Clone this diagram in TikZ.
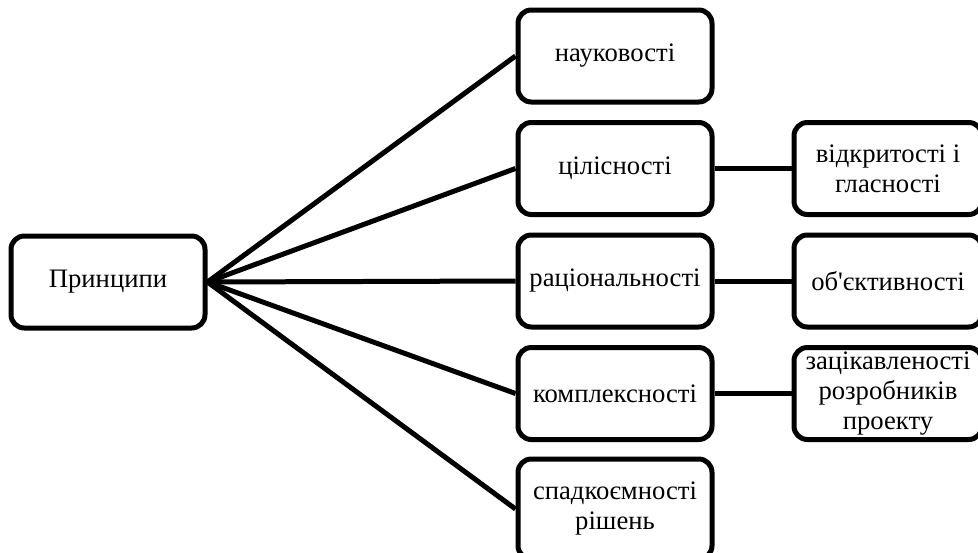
\documentclass[tikz,border=0pt]{standalone}
\usepackage{fontspec}
\setmainfont{Liberation Serif}[Ligatures=TeXOff]
\begin{document}
\begin{tikzpicture}[x=0.75pt,y=-0.75pt,
  box/.style={draw,line width=3.75pt,rounded corners=10pt,minimum width=145.5pt,minimum height=69pt,
    align=center,font=\fontsize{20}{22.5}\selectfont,inner sep=1pt},
  rbox/.style={box,minimum width=141pt},
  link/.style={line width=3.75pt}]
\useasboundingbox (0,0) rectangle (978,553);
\node[box] (p) at (108,282) {Принципи};
\node[box] (m1) at (615,56) {науковості};
\node[box] (m2) at (615,168.5) {цілісності};
\node[box] (m3) at (615,281) {раціональності};
\node[box] (m4) at (615,393.5) {комплексності};
\node[box,minimum height=75pt] (m5) at (615,509) {спадкоємності\\рішень};
\node[rbox] (r2) at (888,168.5) {відкритості і\\гласності};
\node[rbox] (r3) at (888,281) {об'єктивності};
\node[rbox] (r4) at (888,393.5) {зацікавленості\\розробників\\проекту};
\foreach \m in {m1,m2,m3,m4,m5} \draw[link] (p.east) -- (\m.west);
\draw[link] (m2.east) -- (r2.west);
\draw[link] (m3.east) -- (r3.west);
\draw[link] (m4.east) -- (r4.west);
\end{tikzpicture}
\end{document}
